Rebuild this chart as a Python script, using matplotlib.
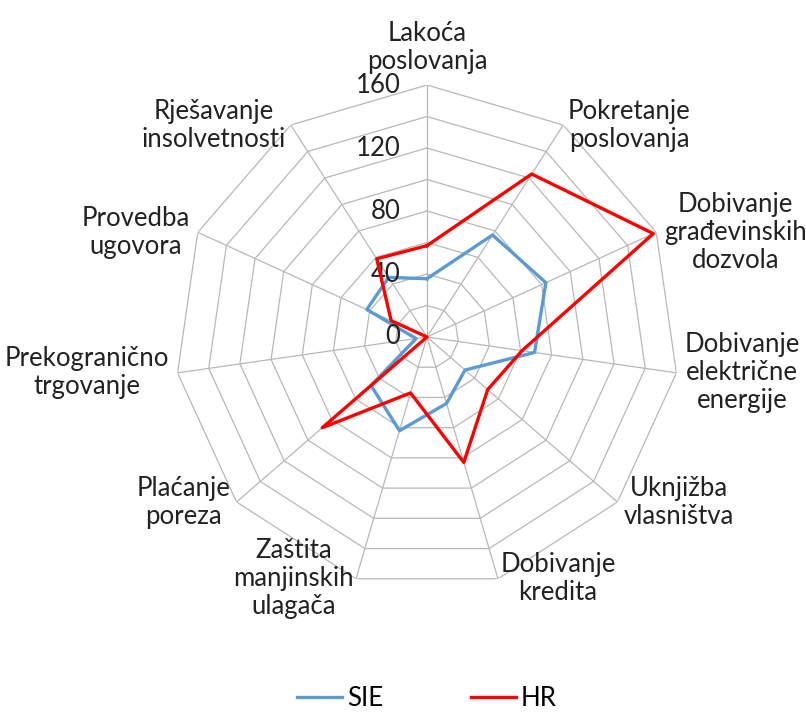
import numpy as np
import matplotlib
matplotlib.use('Agg')
import matplotlib.pyplot as plt

plt.rcParams['font.family'] = ['Lato', 'DejaVu Sans']

kategorije = ['Lakoća\nposlovanja', 'Pokretanje\nposlovanja', 'Dobivanje\ngrađevinskih\ndozvola',
              'Dobivanje\nelektrične\nenergije', 'Uknjižba\nvlasništva', 'Dobivanje\nkredita',
              'Zaštita\nmanjinskih\nulagača', 'Plaćanje\nporeza', 'Prekogranično\ntrgovanje',
              'Provedba\nugovora', 'Rješavanje\ninsolvetnosti']
sie = [37, 77, 83, 69, 32, 44, 62, 47, 7, 42, 45]
hr = [58, 123, 158, 61, 51, 83, 37, 88, 0, 25, 59]
r_ticks = [0, 40, 80, 120, 160]

n = len(kategorije)
kut = np.linspace(0, 2 * np.pi, n, endpoint=False)
kut_z = np.append(kut, kut[0])

fs = 18.5

fig = plt.figure(figsize=(8.06, 7.13), dpi=100)
ax = fig.add_axes([0.2171, 0.1739, 0.6253, 0.7069], projection='polar')
ax.set_theta_offset(np.pi / 2)
ax.set_theta_direction(-1)
ax.set_ylim(0, 160)
ax.grid(False)
ax.spines['polar'].set_visible(False)
ax.set_xticks([])
ax.set_yticks([])
ax.patch.set_alpha(0)

# mreza (poligoni svakih 20)
for r in range(20, 161, 20):
    ax.plot(kut_z, [r] * (n + 1), color='#b8b8b8', lw=0.9, zorder=1)
for t in kut:
    ax.plot([t, t], [0, 160], color='#b8b8b8', lw=0.9, zorder=1)

ax.plot(kut_z, sie + sie[:1], color='#5B9BD5', lw=2.4, label='SIE', zorder=3)
ax.plot(kut_z, hr + hr[:1], color='#FF0000', lw=2.4, label='HR', zorder=4)

for v in r_ticks:
    ax.annotate(str(v), (0, v), xytext=(-19, 0), textcoords='offset points',
                ha='right', va='center', fontsize=fs, color='#222222')

for t, lab in zip(kut, kategorije):
    s, c = np.sin(t), np.cos(t)
    if abs(s) < 0.1:
        ha, va = 'center', 'bottom'
        off = (0, 8)
    else:
        ha = 'left' if s > 0 else 'right'
        va = 'center'
        off = (6 * s, 0)
    ax.annotate(lab, (t, 160), xytext=off, textcoords='offset points',
                ha=ha, va=va, multialignment='center', fontsize=fs,
                color='#222222', linespacing=1.15, annotation_clip=False)

fig.legend(loc='lower center', bbox_to_anchor=(0.53, -0.03), ncol=2, frameon=False,
           fontsize=fs, handlelength=1.75, columnspacing=3.4, handletextpad=0.2)

fig.savefig('out.png', dpi=100)
